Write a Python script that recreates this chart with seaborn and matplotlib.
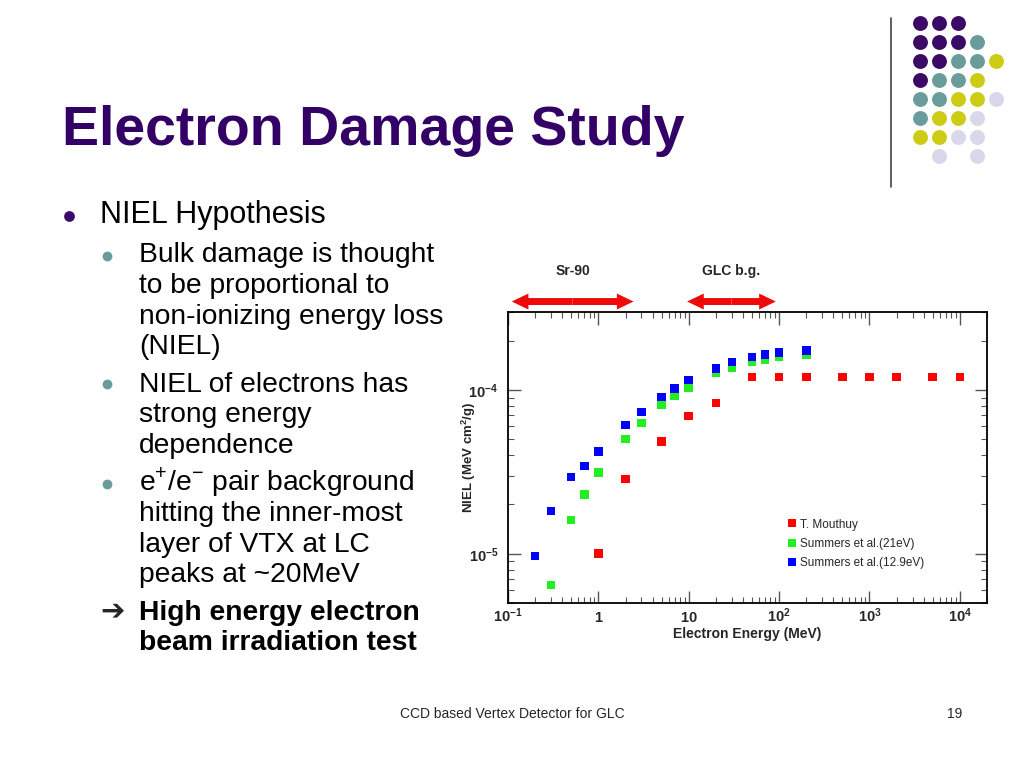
import numpy as np
import pandas as pd
import matplotlib
matplotlib.use('Agg')
import matplotlib.pyplot as plt
import matplotlib.ticker as mticker
from matplotlib.patches import FancyArrowPatch
import seaborn as sns

# data
mouthuy_e = [1, 2, 5, 10, 20, 50, 100, 200, 500, 1000, 2000, 5000, 10000]
mouthuy_niel = [1.0e-5, 2.87e-5, 4.87e-5, 6.96e-5, 8.32e-5, 1.2e-4, 1.2e-4, 1.2e-4,
                1.2e-4, 1.2e-4, 1.2e-4, 1.2e-4, 1.2e-4]
summers21_e = [0.3, 0.5, 0.7, 1, 2, 3, 5, 7, 10, 20, 30, 50, 70, 100, 200]
summers21_niel = [6.45e-6, 1.61e-5, 2.31e-5, 3.13e-5, 5.03e-5, 6.31e-5, 8.09e-5, 9.23e-5,
                  1.04e-4, 1.27e-4, 1.37e-4, 1.48e-4, 1.54e-4, 1.60e-4, 1.65e-4]
summers129_e = [0.2, 0.3, 0.5, 0.7, 1, 2, 3, 5, 7, 10, 20, 30, 50, 70, 100, 200]
summers129_niel = [9.7e-6, 1.83e-5, 2.94e-5, 3.44e-5, 4.23e-5, 6.10e-5, 7.36e-5, 9.1e-5,
                   1.02e-4, 1.15e-4, 1.36e-4, 1.48e-4, 1.59e-4, 1.65e-4, 1.70e-4, 1.75e-4]
series_names = ['T. Mouthuy', 'Summers et al.(21eV)', 'Summers et al.(12.9eV)']
series_colors = ['#ff0000', '#22ee22', '#0000ff']

sr90_range = (0.11, 2.45)
glc_range = (9.6, 92)

x_ticks = [0.1, 1, 10, 100, 1000, 10000]
x_ticklabels = [r'$\mathbf{10^{-1}}$', r'$\mathbf{1}$', r'$\mathbf{10}$',
                r'$\mathbf{10^{2}}$', r'$\mathbf{10^{3}}$', r'$\mathbf{10^{4}}$']
y_ticks = [1e-5, 1e-4]
y_ticklabels = [r'$\mathbf{10^{-5}}$', r'$\mathbf{10^{-4}}$']

title = 'Electron Damage Study'
bullet_lines = [
    # (level, text, baseline y in px, bold)
    (0, 'NIEL Hypothesis', 223, False),
    (1, 'Bulk damage is thought', 262, False),
    (1, 'to be proportional to', 293, False),
    (1, 'non-ionizing energy loss', 324, False),
    (1, '(NIEL)', 354, False),
    (1, 'NIEL of electrons has', 392, False),
    (1, 'strong energy', 422, False),
    (1, 'dependence', 453, False),
    (1, r'e$^{+}$/e$^{-}$ pair background', 490, False),
    (1, 'hitting the inner-most', 521, False),
    (1, 'layer of VTX at LC', 552, False),
    (1, 'peaks at ~20MeV', 582, False),
    (1, 'High energy electron', 620, True),
    (1, 'beam irradiation test', 650, True),
]
sub_bullet_y = [256, 384, 484]
footer = 'CCD based Vertex Detector for GLC'
page_no = '19'

# decoration dot grid (P purple, T teal, Y yellow, L lavender)
dot_rows = ['PPP..', 'PPPT.', 'PPTTY', 'PTTY.', 'TTYYL', 'TYYL.', 'YYLL.', '.L.L.']
dot_colors = {'P': '#3a0a66', 'T': '#6a9c9c', 'Y': '#cccc14', 'L': '#d8d8ea'}

sns.set_theme(style='white')
plt.rcParams['font.family'] = ['Liberation Sans', 'DejaVu Sans']
plt.rcParams['mathtext.fontset'] = 'custom'
plt.rcParams['mathtext.rm'] = 'Liberation Sans'
plt.rcParams['mathtext.bf'] = 'Liberation Sans:bold'

fig = plt.figure(figsize=(10.24, 7.68), dpi=100)
fig.patch.set_facecolor('white')

# full-figure overlay in pixel units for the slide decoration
deco = fig.add_axes([0, 0, 1, 1], zorder=0)
deco.set_xlim(0, 1024)
deco.set_ylim(768, 0)
deco.axis('off')

deco.text(62, 145, title, fontsize=40, fontweight='bold', color='#330066', va='baseline')

deco.plot([891, 891], [18, 187], color='#444444', lw=1.2)
for r, row in enumerate(dot_rows):
    for c, ch in enumerate(row):
        if ch == '.':
            continue
        deco.scatter(920 + 19 * c, 23.3 + 18.9 * r, s=115, color=dot_colors[ch], linewidths=0)

deco.scatter(69, 215.5, s=60, color='#3a0a66', linewidths=0)
deco.scatter([107] * len(sub_bullet_y), sub_bullet_y, s=50, color='#6a9c9c', linewidths=0)
deco.text(100, 619, '\u2794', fontsize=21, fontweight='bold', va='baseline',
          family=['DejaVu Sans'])

for level, txt, yb, bold in bullet_lines:
    x = 100 if level == 0 else 139
    fs = 22 if level == 0 else 20.3
    deco.text(x, yb, txt, fontsize=fs, va='baseline', color='black',
              fontweight='bold' if bold else 'normal')

deco.text(512, 714, footer, fontsize=10, ha='center', va='center')
deco.text(955, 714, page_no, fontsize=10, ha='center', va='center')

# chart
df = pd.concat([
    pd.DataFrame({'energy': mouthuy_e, 'niel': mouthuy_niel, 'source': series_names[0]}),
    pd.DataFrame({'energy': summers21_e, 'niel': summers21_niel, 'source': series_names[1]}),
    pd.DataFrame({'energy': summers129_e, 'niel': summers129_niel, 'source': series_names[2]}),
], ignore_index=True)

ax = fig.add_axes([508 / 1024, 1 - 603 / 768, 479 / 1024, 291 / 768], zorder=2)
sns.scatterplot(data=df, x='energy', y='niel', hue='source', hue_order=series_names,
                palette=dict(zip(series_names, series_colors)), marker='s', s=38,
                linewidth=0, ax=ax)
ax.set_xscale('log')
ax.set_yscale('log')
ax.set_xlim(0.1, 2e4)
ax.set_ylim(5e-6, 3e-4)

ax.xaxis.set_major_locator(mticker.FixedLocator(x_ticks))
ax.xaxis.set_major_formatter(mticker.FixedFormatter(x_ticklabels))
ax.yaxis.set_major_locator(mticker.FixedLocator(y_ticks))
ax.yaxis.set_major_formatter(mticker.FixedFormatter(y_ticklabels))
ax.xaxis.set_minor_locator(mticker.LogLocator(base=10, subs=np.arange(2, 10), numticks=20))
ax.yaxis.set_minor_locator(mticker.LogLocator(base=10, subs=np.arange(2, 10), numticks=20))
ax.xaxis.set_minor_formatter(mticker.NullFormatter())
ax.yaxis.set_minor_formatter(mticker.NullFormatter())

ax.tick_params(which='both', direction='in', bottom=True, left=True, top=True, right=True,
               color='#555555')
ax.tick_params(which='major', length=9, width=1)
ax.tick_params(which='minor', length=4.5, width=0.8)
ax.tick_params(axis='x', which='major', pad=14, labelsize=10.5)
ax.tick_params(axis='y', which='major', pad=7, labelsize=10.5)
plt.setp(ax.get_xticklabels(), va='baseline')
for sp in ax.spines.values():
    sp.set_color('black')
    sp.set_linewidth(1.3)

ax.set_xlabel('Electron Energy (MeV)', fontsize=10, fontweight='bold')
ax.set_ylabel(r'NIEL (MeV cm$^{\mathbf{2}}$/g)', fontsize=9.5, fontweight='bold')
ax.xaxis.set_label_coords(0.5, -0.083)
ax.yaxis.set_label_coords(-0.062, 0.5)

handles, labels = ax.get_legend_handles_labels()
ax.legend(handles, labels, loc='upper left', bbox_to_anchor=(0.582, 0.29), frameon=False,
          fontsize=8.5, handlelength=0.8, handletextpad=0.3, labelspacing=0.62,
          borderpad=0, borderaxespad=0, markerscale=1.0)

# energy range arrows above the frame
tr = ax.get_xaxis_transform()
for (lo, hi), name in [(sr90_range, 'Sr-90'), (glc_range, 'GLC b.g.')]:
    mid = np.sqrt(lo * hi)
    for end in (lo, hi):
        arr = FancyArrowPatch((mid, 1.036), (end, 1.036), transform=tr,
                              arrowstyle='simple,head_length=12,head_width=11.5,tail_width=5',
                              mutation_scale=1, shrinkA=0, shrinkB=0,
                              fc='#ee0a0a', ec='none', clip_on=False)
        ax.add_patch(arr)
    ax.text(mid, 1.142, name, transform=tr, ha='center', va='center', fontsize=10,
            fontweight='bold', clip_on=False)

fig.savefig('out.png', dpi=100, facecolor='white')
